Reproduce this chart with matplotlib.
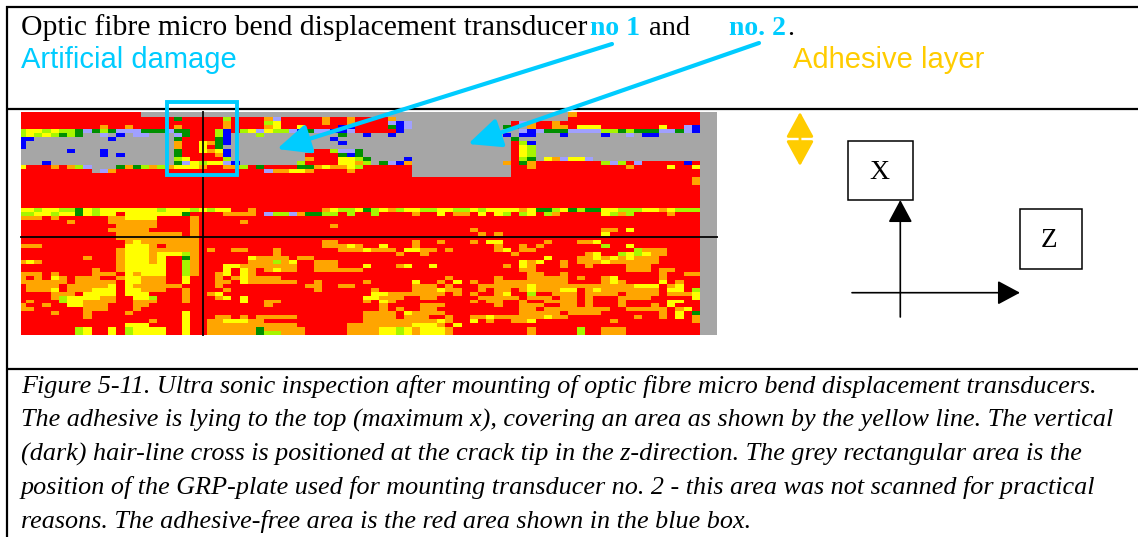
#!/usr/bin/env python3
# -*- coding: utf-8 -*-
"""Ultrasonic C-scan figure with its annotations and caption."""
import numpy as np
import matplotlib
matplotlib.use('Agg')
import matplotlib.pyplot as plt
from matplotlib.colors import ListedColormap
from matplotlib.patches import FancyArrowPatch, Rectangle

# one letter per scan cell, grouped in tens, 83 columns
SCAN_ROWS = [
    "RRRRRRRRRR RRRRRAAAAA AAAAAAAAAA AAAAAAAAAA AAAAAAAAAA AAAAAAAAAA AAAAAAAORR RRRRRRRRRR RRR",
    "RRRRRRRRRR RRRRRRRRRG RRRRRLRRRR OPRRRRRORR ORRRROAAAA AAAAAAAAAA AAAAAAARRR RRRRRRRRRR RRR",
    "RRRRRRRRRR RRRRRRRRRR RRRRRORRRR LYRRRRRORR ORRRRPBPAA AAAAAAAAAA RPORRORRRR RRRRRRRRRR RRR",
    "RRRRRRRRRR ORRORRRRRO RRRRRORRRR OYRRYRRRRB BRRRRGBPAA AAAAAAAAAG RAORROORYY YRRRRRRRYR RPB",
    "LYYLYLLGPG LGPPPGGGPG GRRRLBRLYP YLLPBGPPBB PRRRRRBAAA AAAAAAAAAA APBPGGGPPP PLLGLGGGPP GPB",
    "LYLYLGLGAA PABAPPAAAP GRRRLBAAAL AAAAAAAAAG AABAABAAAA AAAAAAAAAB ABBAAABAAA ABAAPABBAA AAA",
    "BBAAAAAAAA ABAAAAAAAG RRRRGBAAAA AAAAAAAABA AAAAAAAAAA AAAAAAAAAA GAAAAAAAAA AAAAAAAAAA AAA",
    "BAAAAAAAAA AAAAAAAAAO RRYOGBAAAA AAAAAAAAAB AAAAAAAAAA AAAAAAAAAA RLBAAAAAAA AAAAAAAAAA AAA",
    "BAAAAAAAAA AAAAAAAAAO RRYRGAAAAA AAAAAAAAAA AAAAAAAAAA AAAAAAAAAA RYLAAAAAAA AAAAAAAAAA AAA",
    "AAAAAABAAA BAAAAAAAAG RRYOYBAAAA AAAAAARRLP PGAAAAAAAA AAAAAAAAAA RYLAAAAAAA AAAAAAAAAA AAA",
    "AAAAAAAAAA BABAAAAAAG RRRROBAAAA AAAAARRRRG BGAAAAAAAA AAAAAAAAAA RYLAAAAAAA AAAAAAAAAA AAA",
    "AAAAAAAAAA AAAAAAAAAL YRRRRLAAAA AAAAAORRRY YLGAAAABAA AAAAAAAAAA RLGAYOPYYP AAAAAAAAAA AAA",
    "AAABAAAAAA AAAAAAAAAG PYLYYPBAAA AAAALRRRRY YOLAGPBOAA AAAAAAAAAO RGORRRRRRR RLPLRPRRRR RBR",
    "YRRROROLPA AAGOGLOLOY YYORROOLRG RRRRGGOYOO YLRRRRRRAA AAAAAAAAAA RRORRRRRRR RRRRORRRRY RRY",
    "RRRRRRRRRA PORRRRRRRR RRRRRRRRRR POOYYORRRR ORRRRRRRAA AAAAAAAAAA RRRRRRRRRR RRRRRRRRRR RRR",
    "RRRRRRRRRR RRRRRRRRRR RRRRRRRRRR RRRRRRRRRR RRRRRRRRAA AAAAAAAAAA RRRRRRRRRR RRRRRRRRRR RRR",
    "RRRRRRRRRR RRRRRRRRRR RRRRRRRRRR RRRRRRRRRR RRRRRRRRRR RRRRRRRRRR RRRRRRRRRR RRRRRRRRRR RRO",
    "RRRRRRRRRR RRRRRRRRRR RRRRRRRRRR RRRRRRRRRR RRRRRRRRRR RRRRRRRRRR RRRRRRRRRR RRRRRRRRRR RRO",
    "RRRRRRRRRR RRRRRRRRRR RRRRRRRRRR RRRRRRRRRR RRRRRRRRRR RRRRRRRRRR RRRRRRRRRR RRRRRRRRRR RRR",
    "RRRRRRRRRR RRRRRRRRRR RRRRRRRRRR RRRRRRRRRR RRRRRRRRRR RRRRRRRRRR RRRRRRRRRR RRRRRRRRRR RRR",
    "RRRRRRRRRR RRRRRRRRRR RRRRRRRRRR RRRRRRRRRR RRRRRRRRRR RRRRRRRRRR RRRRRRRRRR RRRRRRRRRR RRR",
    "RRRRRRRRRR RRRRRRRRRR RRRRRRRRRR RRRRRRRRRR RRRRRRRRRR RRRRRRRRRR RRRRRRRRRR RRRRRRRRRR RRR",
    "RRRRRRRRRR RRRRRRRRRR RRRRRRRRRR RRRRRRRRRR RRRRRRRRRR RRRRRRRRRR RRRRRRRRRR RRRRRRRRRR RRR",
    "RRRRRRRRRR RRRRRRRRRR RRRRRRRRRR RRRRRRRRRR RRRRRRRRRR RRRRRRRRRR RRRRRRRRRR RRRRRRRRRR RRR",
    "YYLYYLLGYL YYYYYYYLYY YLYLYYRROR RRRRRRROYL LYGLYOLYYL LYYLLYLYYY YOYGGLYGLG GYYLLLYYOY LLL",
    "LLYYLYYGYL YYRYYYYYYY GRRRROOOOR PLLPOGGLLR LRRLRRRROR RYROORYRYL RLYRLORRRR RYLOLRRRRO RRR",
    "OOORORRRRR ROOYYYYRRR RORRRRRRRR RRRRRRRRRR RRRRRRRRRR RRRRRRRRRR RRRRRRRRRR RRRRRRRRRR RRR",
    "RRRRRRORRR ROOOOOORRR RORRRRRORR RRRRRRRRRR RRRRRRRRRR RRRRRRRRRR RRRRRRRRRR RRRRRRRRRR RRR",
    "RRRRRRRRRR RROOOOORRR RORRRRRRRR RRRRRRRROR RRRRRRRRRR RRRRRRRRRR RRRRRRRRRR RRRRRRRRRR RRR",
    "RRRRRRRRRR ROOOOORRRR RORRRRRRRR RRRRRRRRRR RRRRRRRRRR RRRRRORRRR RRRRRRRRRR ROORYRRRRR RRR",
    "RRRRRRRRRR RROOOOOOOO RORRRRRRRR RRRRRRRRRR RRRRRRRRRR RRRRRROROR RRRRRRRRRR RYRRRRRRRR RRR",
    "RRRRRRRRRR RROOOOOOOO OORRRRRRRR RRRRRRRRRR RRRRRRRRRR RRRRRRRRRR RRRRRRRRRR RRRRRRRRRR RRR",
    "RRRRRRRRRR RRROYOOOOO OORRRRRRRR RRRRRRROOR RRRRRRRROR RORRRORYYR RRRRORRROO YRRRRRRRRR RRR",
    "OOORRRRRRR RRRYYYOROO OORRRRRRRR RRRRRRROOO YORRYRRROR RRRRRRRROR RORORRRRRR RLRRYRRRRR RRR",
    "RRRRRRRRRR RROYYYOOOO OORORROORR RORRRRRRRO OOYOOORYYO ORORRRRROY ROORRRRRRR RRRRRLOOOR RRR",
    "RRRRRRRRRR RROYYYOYYY LORRRRRRRR RORRRRRRRR RRRRRRORRO RRRRRRRRRR ORRRRRRRRO YRRLYLYOOR RRR",
    "RRRRRRRROR RROYYYOYRR GORRRRRRYO OOOROORRRR RRRRRRRRRR RRRRRRRRRR RRRRYRRROO YOYOYOOORR RRR",
    "OYORRRRRRR RROYYYOYRR LORRRRRROO OLOYRROOOR RRRRRRRRRR RRRRRRRRRR RYOYRROROO OYOOOOOORR RRR",
    "RRRRRRRRRR RROYYYYYRR LORRRYYOOO OOOORROOOR RRYRRROYRR YRRRRRRRRO RYORRRORRO RRRROOORRR RRR",
    "RRRRRRRRRO RROYYYYYRR LORRRYRYOR OYOORROOOO OORRRRRRRR RRRRRRRRRR ROORRRRRRR RRRROOOROO RRR",
    "OOORORRRRO OORYOYYYRR LORROYRYOR RRRRRRRRRR RRRRRRRRRR RRRRRRRRRR RROORRORRR RRRRRRRROR ROO",
    "ORORYOROOO RROYYOOORR YRRROROYOO OORRRRRRRR RRRRRRRRRR RRORRRRROR RROOOOOROR ROYRRRRROR RRR",
    "OOOOOOROOO OORYYOOORR YRRROORYOO OOOORRORRR RRORRRRRYR RORYRORROO OOOOOOORRR ROYORRRRYR ORR",
    "ROOOOROOOO OYRYOOOOOO RRRRORRRRR RRRRROORRO ORRRRRRROO ORORRROOOO OOYOOOOOOO OOOOOYYYRO YRR",
    "ROOOYROOOY YYRYYOOORR ORRRRORRRR RRRRRRORRR RRRORRRROO OYOORROROO ROYOOOYYRO YOOOOOOORY YRL",
    "RRRROOORYY YYRYYYRRRR ORROYRRRRR RRRRRRRRRR RRRYYOOOOO OORORORROY RRLRROOORO OOOROOOORO OOY",
    "RRRROLYYYY OORRYYLRRR ORRROYRYRR RRRRRRRRRR RRYYOOORRO ORRRRROOOO OROOOROORO RRROOOORRR RRY",
    "RORRRLYYOO OORROOORRR ORRRRRRYRR OORRRRRRRR RRORYORRRR RRRRRORROOR RORROOOORO RRRORRRRRY YRR".replace("ORROOR", "OROOR"),
    "ORRORRYYOO ORRROORRRR RRRRRRRRRR ORRRRRRRRR RRRRORRRRO OORRRRRROR ROOORROORO RRRORRRORY RRR",
    "OORRRRRROO ORRRORRRRR RRRRRRRRRR RRRRRRRRRR RRRRORORRO ORRRRRRRRR ROOROOOOOO OORROOOOOR OYR",
    "RRRRORRROR RRRORRRRRR YRRRRRRRRR RRRRRRRRRR RROOOORYOO OORRRRRRRR ROOOOOROOO ORRRRRRROR YRG",
    "RRRRRRRROR RRRRRRRRRR YRRROORORO OOOORRRRRR RROOOOROOO RRORROOYOO OOOOYOORRR RRRRRORROR YRO",
    "RRRRRRRRRR RRRRRRORRR YRROOYYYOO RRRRRRRRRR RROOOOOOOO OYORRYRORR OOYRRRRRRR RRORRRRRRR RRO",
    "RRRRRRRRRR RRRYYYRRRR YRROOOOOOO OOOORRRRRR OOOOOOOOYY YORYRRRRRR RRRRRRRRRR RRRRRRRRRR RRR",
    "RRRRRRRLYR RYRLYYYYRR YRROOOOOOG OOOOORRRRR OOOOYYLYOY YYORRRRRRR RRORRRRRLR ROOORRRRRR RRR",
    "RRRRRRRLYR RYRLYYYYRR YRROOOOOOG LLOOORRRRR OOOOYYLYOY YYORRRRRRR RRORRRRRLR ROOORRRRRR RRR",
]

CELL_CODES = "ROYLGBPA"
CELL_COLOURS = ['#ff0000', '#ffa500', '#ffff00', '#a6f500', '#008f00',
                '#0000ff', '#a0a0ff', '#a6a6a6']

TITLE_PARTS = [("Optic fibre micro bend displacement transducer", 21, 'black', 'normal', 21.35),
               ("no 1", 590, '#00ccff', 'bold', 20),
               ("and", 649, 'black', 'normal', 20.5),
               ("no. 2", 729, '#00ccff', 'bold', 20),
               (".", 787, 'black', 'normal', 20)]

CAPTION_LINES = [
    "Figure 5-11. Ultra sonic inspection after mounting of optic fibre micro bend displacement transducers.",
    "The adhesive is lying to the top (maximum x), covering an area as shown by the yellow line. The vertical",
    "(dark) hair-line cross is positioned at the crack tip in the z-direction. The grey rectangular area is the",
    "position of the GRP-plate used for mounting transducer no. 2 - this area was not scanned for practical",
    "reasons. The adhesive-free area is the red area shown in the blue box.",
]

WIDTH, HEIGHT = 1138, 537
CYAN = '#00ccff'
GOLD = '#ffcc00'


def scan_image():
    rows = [r.replace(' ', '').ljust(83, 'R')[:83] + 'AAA' for r in SCAN_ROWS]
    rows = [rows[0]] + rows  # first row runs up under the frame
    return np.array([[CELL_CODES.index(c) for c in r] for r in rows])


def main():
    fig = plt.figure(figsize=(WIDTH / 100, HEIGHT / 100), dpi=100)
    ax = fig.add_axes([0, 0, 1, 1])

    # scan
    cell_w, cell_h = 8.22, 3.96
    x0, y0 = 17.7, 113.4 - cell_h
    grid = scan_image()
    im = ax.imshow(grid, cmap=ListedColormap(CELL_COLOURS), vmin=-0.5, vmax=7.5,
                   interpolation='nearest', aspect='auto',
                   extent=(x0, x0 + grid.shape[1] * cell_w, y0 + grid.shape[0] * cell_h, y0),
                   zorder=1)
    im.set_clip_path(Rectangle((21, 112), 696, 223, transform=ax.transData))
    ax.set_xlim(0, WIDTH)
    ax.set_ylim(HEIGHT, 0)
    ax.axis('off')

    # hair-line cross
    ax.plot([203, 203], [112, 335], color='black', lw=1.4, alpha=0.9, zorder=2)
    ax.plot([21, 717], [237, 237], color='black', lw=1.4, alpha=0.9, zorder=2)

    # frame
    for ys in (7, 109, 369):
        ax.plot([6, WIDTH], [ys, ys], color='black', lw=1.6, solid_capstyle='butt', zorder=3)
    ax.plot([7, 7], [6, HEIGHT], color='black', lw=1.6, solid_capstyle='butt', zorder=3)

    # title line
    for text, x, colour, weight, size in TITLE_PARTS:
        ax.text(x, 35, text, color=colour, fontweight=weight, fontsize=size,
                family='Liberation Serif', va='baseline', ha='left')
    ax.text(21, 68, "Artificial damage", color=CYAN, fontsize=21,
            family='Liberation Sans', va='baseline', ha='left')
    ax.text(793, 68, "Adhesive layer", color=GOLD, fontsize=21,
            family='Liberation Sans', va='baseline', ha='left')

    # caption
    for i, line in enumerate(CAPTION_LINES):
        ax.text(21, 393 + i * 33.75, line, fontsize=18.8, style='italic',
                family='Liberation Serif', va='baseline', ha='left')

    # damage box
    ax.add_patch(Rectangle((167.5, 102), 69.5, 73, fill=False, edgecolor=CYAN, lw=2.8, zorder=4))

    # cyan arrows to the transducers
    for start, tip in (((612, 44), (277, 149)), ((759, 43), (468, 144))):
        ax.add_patch(FancyArrowPatch(start, tip, arrowstyle='-|>,head_length=20,head_width=9',
                                     mutation_scale=1, color=CYAN, lw=3, shrinkA=0, shrinkB=0, zorder=5))

    # adhesive layer thickness arrow
    ax.add_patch(FancyArrowPatch((800, 112), (800, 166), arrowstyle='<|-|>,head_length=15.5,head_width=8.5',
                                 mutation_scale=1, color=GOLD, lw=2, shrinkA=0, shrinkB=0, zorder=5))

    # axes sketch
    for start, tip in (((900.3, 317), (900.3, 200)), ((852, 292.7), (1020, 292.7))):
        ax.add_patch(FancyArrowPatch(start, tip, arrowstyle='-|>,head_length=14,head_width=7.5',
                                     mutation_scale=1, color='black', lw=1.2, shrinkA=0, shrinkB=0, zorder=5))
    ax.add_patch(Rectangle((848, 141), 65.5, 59, fill=False, edgecolor='black', lw=1.1, zorder=4))
    ax.add_patch(Rectangle((1020, 209), 62, 60, fill=False, edgecolor='black', lw=1.1, zorder=4))
    ax.text(879, 179, "X", fontsize=20, family='Liberation Serif', ha='center', va='baseline')
    ax.text(1049, 247, "Z", fontsize=19.5, family='Liberation Serif', ha='center', va='baseline')

    fig.savefig('out.png', dpi=100)


if __name__ == '__main__':
    main()
